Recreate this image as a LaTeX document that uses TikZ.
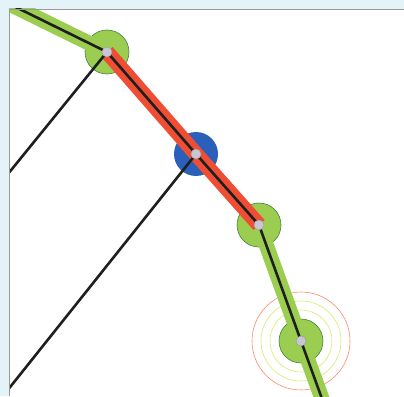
\documentclass[tikz,border=0pt]{standalone}
\usepackage{xcolor}
\usepackage{tikz}
\usetikzlibrary{backgrounds}
\definecolor{trackgreen}{RGB}{155, 205, 80}
\definecolor{trackred}{RGB}{240, 78, 52}
\definecolor{zoneblue}{RGB}{42, 96, 186}
\definecolor{paleframe}{RGB}{228, 243, 248}
\definecolor{dotgrey}{RGB}{200, 198, 210}

\begin{document}
\begin{tikzpicture}[x=1pt, y=-1pt,
    vertex/.style={circle, inner sep=0pt, minimum size=10pt,
        fill=dotgrey, draw=gray!75, line width=0.5pt},
    greenzone/.style={fill=trackgreen, draw=green!35!black!75, line width=0.6pt},
    bluezone/.style={fill=zoneblue},
    greenband/.style={draw=trackgreen, line width=15pt, line join=round},
    redband/.style={draw=trackred, line width=15pt},
    wire/.style={draw=black!88, line width=2.6pt, line join=round},
    redring/.style={draw=red!55!orange!60, line width=0.6pt},
    greenring/.style={draw=trackgreen!55!yellow!70, line width=0.6pt},
]
\useasboundingbox (0,0) rectangle (404,396);

% ── VERTICES ────────────────────────────────────────────────────────────────
\node[vertex] at (107,  52)  (a) {};
\node[vertex] at (196, 154)  (b) {};
\node[vertex] at (259, 225)  (c) {};
\node[vertex] at (301, 341)  (d) {};

\coordinate (start)  at (-15,  -8);
\coordinate (finish) at (325, 407);
\coordinate (lefta)  at (-1, 185);
\coordinate (leftb)  at (-1, 401);

\begin{scope}[on background layer]
% ── FRAME ───────────────────────────────────────────────────────────────────
\fill[paleframe] (0,0) rectangle (404,396);
\fill[white] (9,9) rectangle (404,396);

\begin{scope}
\clip (9,9) rectangle (404,396);

% ── ZONES ───────────────────────────────────────────────────────────────────
\draw[redring]   (d.center) circle[radius=49pt];
\draw[greenring] (d.center) circle[radius=40pt];
\draw[greenring] (d.center) circle[radius=31pt];

\filldraw[greenzone] (a.center) circle[radius=22pt];
\fill[bluezone]      (b.center) circle[radius=22pt];
\filldraw[greenzone] (c.center) circle[radius=22pt];
\filldraw[greenzone] (d.center) circle[radius=22pt];

% ── BANDS ───────────────────────────────────────────────────────────────────
\draw[greenband] (start) -- (a.center);
\draw[greenband] (c.center) -- (d.center) -- (finish);
\draw[redband]   (a.center) -- (b.center) -- (c.center);

% ── WIRES ───────────────────────────────────────────────────────────────────
\draw[wire] (start) -- (a.center) -- (b.center) -- (c.center) -- (d.center) -- (finish);
\draw[wire] (a.center) -- (lefta);
\draw[wire] (b.center) -- (leftb);
\end{scope}

\draw[gray!80, line width=0.7pt] (9,396) -- (9,9) -- (404,9);
\end{scope}

\end{tikzpicture}
\end{document}
